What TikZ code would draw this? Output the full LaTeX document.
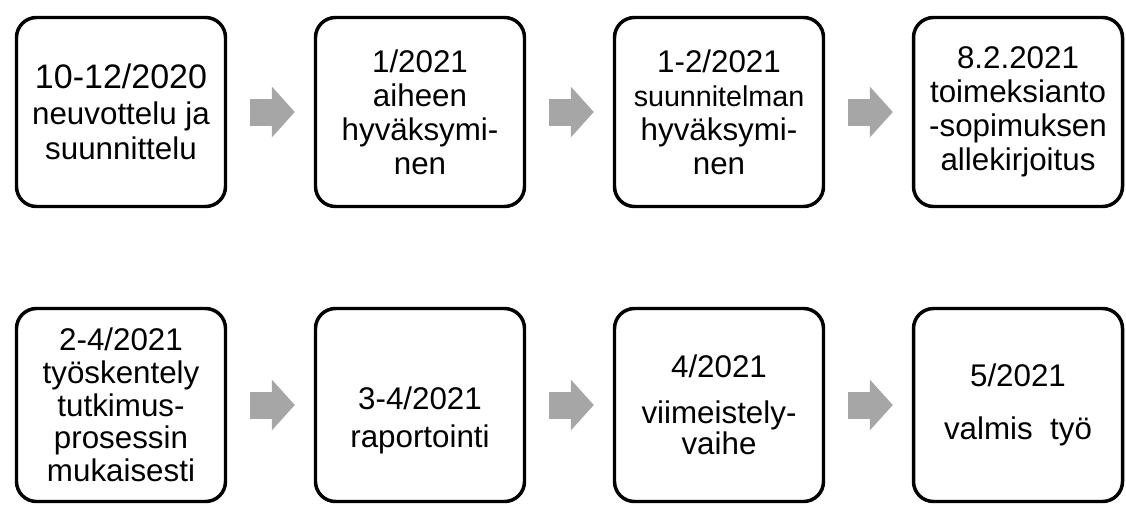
\documentclass[tikz,border=0pt]{standalone}
\usepackage{fontspec}
\setmainfont{Liberation Sans}
\usetikzlibrary{positioning,arrows.meta}
\definecolor{flowgray}{HTML}{A6A6A6}

\begin{document}
\begin{tikzpicture}[x=0.75pt, y=-0.75pt, node distance=224.25pt,
		phase/.style={rectangle, draw=black, line width=2.6pt, rounded corners=15pt, minimum width=156.75pt, inner sep=0pt, align=center, font=\fontsize{23.5}{25.5}\selectfont},
		toprow/.style={phase, minimum height=141.75pt},
		bottomrow/.style={phase, minimum height=144.75pt},
		flow/.style={draw=flowgray, line width=20.25pt, -{Triangle[width=38.25pt, length=17.25pt, line width=0pt]}, shorten <=17.25pt, shorten >=14.25pt}]

		\useasboundingbox (0,0) rectangle (1126,504);

		% first row
		\node(plan-1)[toprow] at (121,112) {{\fontsize{25.5}{28}\selectfont 10-12/2020}\\[1pt]neuvottelu ja\\[1pt]suunnittelu};
		\node(plan-2)[toprow, right of=plan-1] {1/2021\\aiheen\\hyväksymi-\\nen};
		\node(plan-3)[toprow, right of=plan-2] {1-2/2021\\{\fontsize{21.5}{25}\selectfont suunnitelman}\\hyväksymi-\\nen};
		\node(plan-4)[toprow, right of=plan-3] {8.2.2021\\toimeksianto\\-sopimuksen\\allekirjoitus};

		% second row
		\node(plan-5)[bottomrow] at (121,405) {2-4/2021\\[-1pt]työskentely\\[-1pt]tutkimus-\\[-1pt]prosessin\\[-1pt]mukaisesti};
		\node(plan-6)[bottomrow, right of=plan-5] {\rule{0pt}{40pt}3-4/2021\\[3pt]raportointi};
		\node(plan-7)[bottomrow, right of=plan-6] {4/2021\\[9pt]viimeistely-\\[-2pt]vaihe};
		\node(plan-8)[bottomrow, right of=plan-7] {5/2021\\[14pt]valmis\ \ työ};

		\draw[flow] (plan-1.east) -- (plan-2.west);
		\draw[flow] (plan-2.east) -- (plan-3.west);
		\draw[flow] (plan-3.east) -- (plan-4.west);
		\draw[flow] (plan-5.east) -- (plan-6.west);
		\draw[flow] (plan-6.east) -- (plan-7.west);
		\draw[flow] (plan-7.east) -- (plan-8.west);
	\end{tikzpicture}
\end{document}
